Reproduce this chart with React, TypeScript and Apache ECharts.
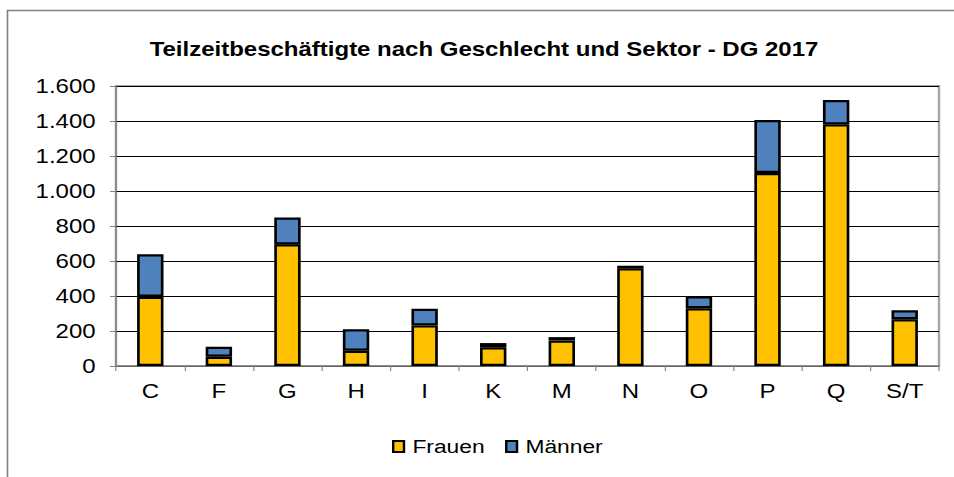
import React, { useEffect, useRef } from "react";
import * as echarts from "echarts";

const categories = ["C", "F", "G", "H", "I", "K", "M", "N", "O", "P", "Q", "S/T"];
const frauen = [396, 53, 695, 87, 232, 107, 145, 558, 330, 1103, 1381, 267];
const maenner = [242, 57, 153, 123, 95, 24, 20, 15, 68, 303, 139, 51];
const seriesNames = ["Frauen", "Männer"];
const titleText = "Teilzeitbeschäftigte nach Geschlecht und Sektor - DG 2017";

const FONT = "'Liberation Sans', Arial, sans-serif";
// The reference is drawn horizontally stretched; we render narrower and scale X.
const SX = 1.2;
const W = 954 / SX;

export default function App() {
  const ref = useRef<HTMLDivElement>(null);
  useEffect(() => {
    if (!ref.current) return;
    const chart = echarts.init(ref.current, null, { renderer: "svg" });
    const fmt = (v: number) => String(v).replace(/\B(?=(\d{3})+(?!\d))/g, ".");
    chart.setOption({
      animation: false,
      backgroundColor: "#ffffff",
      textStyle: { fontFamily: FONT },
      title: {
        text: titleText,
        left: 478 / SX,
        textAlign: "center",
        top: 34,
        textStyle: { fontFamily: FONT, fontSize: 20, fontWeight: "bold", color: "#000" },
      },
      graphic: [
        {
          type: "rect",
          shape: { x: 7.5 / SX, y: 10.5, width: 1000, height: 600 },
          style: { fill: "none", stroke: "#808080", lineWidth: 1.3 },
          silent: true,
        },
      ],
      legend: {
        data: seriesNames,
        left: 386 / SX,
        top: 432,
        itemWidth: 9,
        itemHeight: 11,
        itemGap: 17,
        icon: "rect",
        textStyle: { fontFamily: FONT, fontSize: 19, color: "#000", padding: [0, 0, 0, 2] },
      },
      grid: {
        left: 116 / SX,
        right: 15 / SX,
        top: 86,
        bottom: 111,
        show: true,
        borderColor: "#a6a6a6",
        borderWidth: 2,
      },
      xAxis: {
        type: "category",
        data: categories,
        axisLine: { lineStyle: { color: "#868686", width: 1.5 } },
        axisTick: { show: true, length: 5, lineStyle: { color: "#868686" } },
        axisLabel: { color: "#000", fontSize: 20, fontFamily: FONT, margin: 15 },
      },
      yAxis: {
        type: "value",
        min: 0,
        max: 1600,
        interval: 200,
        axisLine: { show: true, lineStyle: { color: "#868686", width: 1.3 } },
        axisTick: { show: true, length: 5, lineStyle: { color: "#868686" } },
        axisLabel: { color: "#000", fontSize: 20, fontFamily: FONT, margin: 17, formatter: fmt },
        splitLine: { lineStyle: { color: "#000", width: 1 } },
      },
      series: [
        {
          name: seriesNames[0],
          type: "bar",
          stack: "total",
          data: frauen,
          barWidth: 22,
          itemStyle: { color: "#FFC000", borderColor: "#000", borderWidth: 2.2 },
        },
        {
          name: seriesNames[1],
          type: "bar",
          stack: "total",
          data: maenner,
          barWidth: 22,
          itemStyle: { color: "#4F81BD", borderColor: "#000", borderWidth: 2.2 },
        },
      ],
    });
    return () => chart.dispose();
  }, []);
  return (
    <div style={{ position: "fixed", left: 0, top: 0, width: 954, height: 477, overflow: "hidden", background: "#fff" }}>
      <div
        ref={ref}
        style={{
          width: W,
          height: 477,
          transform: `scaleX(${SX})`,
          transformOrigin: "0 0",
        }}
      />
    </div>
  );
}
